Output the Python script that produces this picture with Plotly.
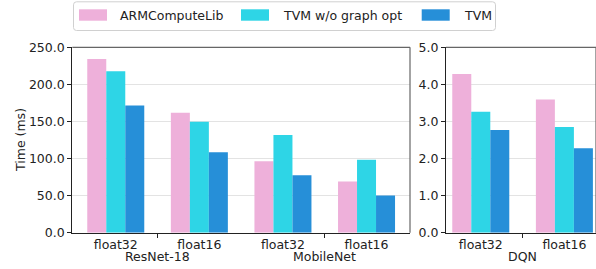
import plotly.graph_objects as go

# ---- data ----
SERIES = ["ARMComputeLib", "TVM w/o graph opt", "TVM"]
COLORS = ["#eeb0da", "#2ed5e6", "#268fd8"]
PRECISIONS = ["float32", "float16"]
LEFT_MODELS = ["ResNet-18", "MobileNet"]
RIGHT_MODELS = ["DQN"]

arm_left = [234.1, 161.8, 96.4, 69.1]
nograph_left = [217.7, 149.5, 131.8, 98.2]
tvm_left = [171.4, 108.6, 77.3, 50.0]

arm_dqn = [4.28, 3.59]
nograph_dqn = [3.26, 2.85]
tvm_dqn = [2.77, 2.28]

left_vals = [arm_left, nograph_left, tvm_left]
right_vals = [arm_dqn, nograph_dqn, tvm_dqn]

W, H = 596, 269
def px(x):
    return x / W
def py(y):
    return 1 - y / H

FONT = "DejaVu Sans"
TXT = "#222222"

fig = go.Figure()

left_x = list(range(len(LEFT_MODELS) * len(PRECISIONS)))
right_x = list(range(len(RIGHT_MODELS) * len(PRECISIONS)))

for name, col, lv, rv in zip(SERIES, COLORS, left_vals, right_vals):
    fig.add_trace(go.Bar(x=left_x, y=lv, name=name, marker_color=col,
                         marker_line_width=0, xaxis="x", yaxis="y",
                         showlegend=False))
    fig.add_trace(go.Bar(x=right_x, y=rv, name=name, marker_color=col,
                         marker_line_width=0, xaxis="x2", yaxis="y2",
                         showlegend=False))

ydom = [py(232.7), py(47.3)]
left_ticktext = PRECISIONS * len(LEFT_MODELS)
right_ticktext = PRECISIONS * len(RIGHT_MODELS)

axis_common = dict(
    showline=True, linecolor="#222222", linewidth=1.2,
    tickfont=dict(family=FONT, size=12.5, color=TXT),
    zeroline=False, automargin=False,
)

fig.update_layout(
    width=W, height=H,
    margin=dict(l=0, r=0, t=0, b=0, autoexpand=False),
    paper_bgcolor="white", plot_bgcolor="white",
    barmode="group", bargap=0.318, bargroupgap=0,
    showlegend=False,
    font=dict(family=FONT, size=12.5, color=TXT),
    xaxis=dict(domain=[px(72.3), px(410)], range=[-0.52, 3.52],
               tickmode="array", tickvals=left_x, ticktext=left_ticktext,
               ticks="", showgrid=False,
               minor=dict(tickmode="array", tickvals=[0.5, 2.5], ticks="outside",
                          ticklen=4, tickcolor="#222222", showgrid=False),
               anchor="y", **axis_common),
    yaxis=dict(domain=ydom, range=[0, 250], tickmode="array",
               tickvals=[0, 50, 100, 150, 200, 250], tickformat=".1f",
               ticks="outside", ticklen=4, tickcolor="#222222",
               showgrid=True, gridcolor="#e3e3e3", gridwidth=1,
               anchor="x", **axis_common),
    xaxis2=dict(domain=[px(446), 1.0], range=[-0.416, 1.378],
                tickmode="array", tickvals=right_x, ticktext=right_ticktext,
                ticks="", showgrid=False,
                minor=dict(tickmode="array", tickvals=[0.5], ticks="outside",
                           ticklen=4, tickcolor="#222222", showgrid=False),
                anchor="y2", **axis_common),
    yaxis2=dict(domain=ydom, range=[0, 5], tickmode="array",
                tickvals=[0, 1, 2, 3, 4, 5], tickformat=".1f",
                ticks="outside", ticklen=4, tickcolor="#222222",
                showgrid=True, gridcolor="#e3e3e3", gridwidth=1,
                anchor="x2", **axis_common),
)

shapes = []
# top / right spines (gray)
for xr, yr in (("x domain", "y domain"), ("x2 domain", "y2 domain")):
    shapes.append(dict(type="line", xref=xr, yref=yr, x0=0, x1=1, y0=1, y1=1,
                       line=dict(color="#666666", width=1.2)))
    shapes.append(dict(type="line", xref=xr, yref=yr, x0=1, x1=1, y0=0, y1=1,
                       line=dict(color="#666666", width=1.2)))

# legend box (rounded)
x0, x1, y0, y1, r = px(73.5), px(495.5), py(30.5), py(1.8), 3
rx, ry = r / W, r / H
path = (f"M{x0+rx},{y1} L{x1-rx},{y1} Q{x1},{y1} {x1},{y1-ry} "
        f"L{x1},{y0+ry} Q{x1},{y0} {x1-rx},{y0} L{x0+rx},{y0} "
        f"Q{x0},{y0} {x0},{y0+ry} L{x0},{y1-ry} Q{x0},{y1} {x0+rx},{y1} Z")
shapes.append(dict(type="path", xref="paper", yref="paper", path=path,
                   line=dict(color="#d0d0d0", width=1), fillcolor="white"))

annotations = []
swatch_x = [79, 241, 421.7]
text_x = [118.3, 281, 461.7]
for name, col, sx, tx in zip(SERIES, COLORS, swatch_x, text_x):
    shapes.append(dict(type="rect", xref="paper", yref="paper",
                       x0=px(sx), x1=px(sx + 28), y0=py(20.7), y1=py(9.3),
                       line=dict(width=0), fillcolor=col))
    annotations.append(dict(xref="paper", yref="paper", x=px(tx), y=py(15.5),
                            text=name, showarrow=False, xanchor="left",
                            yanchor="middle",
                            font=dict(family=FONT, size=12.5, color=TXT)))

# model group labels
for i, m in enumerate(LEFT_MODELS):
    annotations.append(dict(xref="x", yref="paper", x=2 * i + 0.5, y=py(256),
                            text=m, showarrow=False, xanchor="center",
                            yanchor="middle",
                            font=dict(family=FONT, size=12.5, color=TXT)))
for i, m in enumerate(RIGHT_MODELS):
    annotations.append(dict(xref="x2", yref="paper", x=2 * i + 0.5, y=py(256),
                            text=m, showarrow=False, xanchor="center",
                            yanchor="middle",
                            font=dict(family=FONT, size=12.5, color=TXT)))

# y title
annotations.append(dict(xref="paper", yref="paper", x=px(20), y=py(140),
                        text="Time (ms)", showarrow=False, textangle=-90,
                        xanchor="center", yanchor="middle",
                        font=dict(family=FONT, size=12.5, color=TXT)))

fig.update_layout(shapes=shapes, annotations=annotations)
fig.write_html(
    "out.html",
    config={"displayModeBar": False},
    post_script="document.body.style.margin='0';document.body.style.overflow='hidden';",
)
